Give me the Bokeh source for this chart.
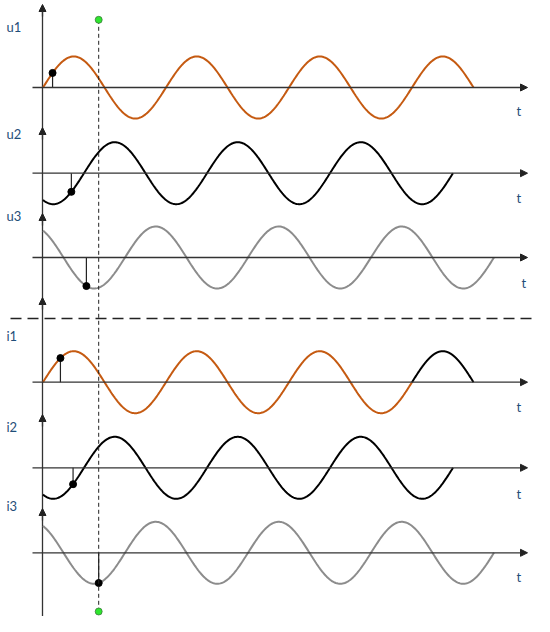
import numpy as np
from bokeh.plotting import figure
from bokeh.models import Range1d, Arrow, NormalHead
from bokeh.core.properties import value
from bokeh.embed import file_html
from bokeh.resources import INLINE

# ---------------- data ----------------
labels = ["u1", "u2", "u3", "i1", "i2", "i3"]
phase_deg = [0, -120, 120, 0, -120, 120]        # phase shift of each wave (degrees)
amplitude = [1.0, 1.0, 1.0, 1.0, 1.0, 1.0]
end_deg = [1260, 1200, 1320, 1260, 1200, 1320]  # where each wave stops (omega*t, degrees)
marker_deg = [28, 83, 127, 51, 88, 163]         # instant marked by a dot on each wave
cursor_deg = 163                                # the dashed vertical cursor
i1_switch_deg = 1080                            # i1 turns black after this
axis_label = "t"

# ---------------- layout / style ----------------
W, H = 534, 616
DEG_PX = 123 / 360.0
UNIT_PX = 31.0


def X(px):
    return (px - 42.5) / DEG_PX


def Y(py):
    return (87.0 - py) / UNIT_PX


base_py = [87, 172.7, 257, 381.7, 467.3, 552.3]
tip_py = [4, 127, 213, 297, 414, 508]
label_py = [26, 133, 215, 335, 426, 505]
t_px = [516, 516, 521, 516, 516, 516]
t_py = [110, 197, 282, 406, 493, 576]
wave_colors = ["#C55A11", "#000000", "#8C8C8C", "#C55A11", "#000000", "#8C8C8C"]
text_color = "#1F4E79"
axis_color = "#222222"

p = figure(width=W, height=H, x_range=Range1d(X(0), X(W)),
           y_range=Range1d(Y(H), Y(0)), output_backend="svg",
           toolbar_location=None, x_axis_type=None, y_axis_type=None,
           min_border=0)
p.grid.visible = False
p.outline_line_color = None
p.background_fill_color = "white"

# vertical axis line (continuous)
p.segment(x0=[X(42)], y0=[Y(H + 2)], x1=[X(42)], y1=[Y(tip_py[0] + 4)],
          line_color="#333333", line_width=1.3)
for ty in tip_py:
    p.add_layout(Arrow(end=NormalHead(size=7, fill_color=axis_color, line_color=axis_color),
                       x_start=X(42), y_start=Y(ty + 12), x_end=X(42), y_end=Y(ty),
                       line_color="#333333", line_width=1.3))

# horizontal t-axes
for b in base_py:
    p.add_layout(Arrow(end=NormalHead(size=7, fill_color=axis_color, line_color=axis_color),
                       x_start=X(32), y_start=Y(b), x_end=X(527), y_end=Y(b),
                       line_color="#333333", line_width=1.3))

# waves
for k in range(6):
    b = Y(base_py[k])
    if labels[k] == "i1":
        segs = [(0, i1_switch_deg, wave_colors[k]), (i1_switch_deg, end_deg[k], "#000000")]
    else:
        segs = [(0, end_deg[k], wave_colors[k])]
    for s, e, c in segs:
        t = np.linspace(s, e, 400)
        y = b + amplitude[k] * np.sin(np.radians(t + phase_deg[k]))
        p.line(t, y, line_color=c, line_width=2)

# stems and dots
mx, my, sy0 = [], [], []
for k in range(6):
    b = Y(base_py[k])
    m = marker_deg[k]
    mx.append(m)
    my.append(b + amplitude[k] * np.sin(np.radians(m + phase_deg[k])))
    sy0.append(b)
p.segment(x0=mx, y0=sy0, x1=mx, y1=my, line_color="#222222", line_width=1.2)
p.scatter(x=mx, y=my, size=7, fill_color="black", line_color="black")

# dashed separator between voltages and currents
p.segment(x0=[X(10)], y0=[Y(318)], x1=[X(545)], y1=[Y(318)],
          line_color="#222222", line_width=1.4, line_dash="11 6")

# dashed cursor with green end dots
p.segment(x0=[cursor_deg], y0=[Y(19.3)], x1=[cursor_deg], y1=[Y(611)],
          line_color="#222222", line_width=1, line_dash="4 3")
p.scatter(x=[cursor_deg, cursor_deg], y=[Y(19.3), Y(611)], size=7,
          fill_color="#2EE62E", line_color="#3C7A3C", line_width=0.8)

# labels
p.text(x=[X(6)] * 6, y=[Y(v) for v in label_py], text=labels,
       text_font=value("Lato"), text_font_size="13px", text_color=text_color,
       text_baseline="middle", text_align="left")
p.text(x=[X(v) for v in t_px], y=[Y(v) for v in t_py], text=[axis_label] * 6,
       text_font=value("Lato"), text_font_size="13px", text_color=text_color,
       text_baseline="middle", text_align="left")

open("out.html", "w").write(file_html(p, INLINE))
